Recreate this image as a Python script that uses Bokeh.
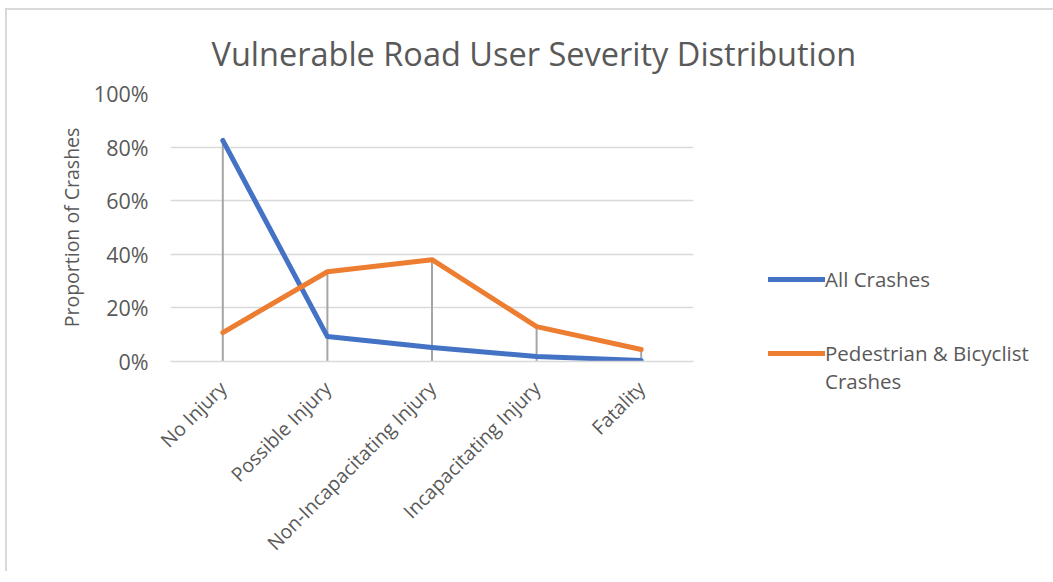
from bokeh.plotting import figure
from bokeh.models import (FactorRange, Range1d, FixedTicker, NumeralTickFormatter,
                          Legend, LegendItem)
from bokeh.embed import file_html
from bokeh.resources import INLINE
import math

categories = ["No Injury", "Possible Injury", "Non-Incapacitating Injury",
              "Incapacitating Injury", "Fatality"]
all_crashes = [0.825, 0.093, 0.052, 0.019, 0.004]
ped_bike = [0.108, 0.335, 0.38, 0.13, 0.045]
y_ticks = [0, 0.2, 0.4, 0.6, 0.8, 1.0]
title_text = "Vulnerable Road User Severity Distribution"
y_label = "Proportion of Crashes"
series_names = ["All Crashes", " \nPedestrian & Bicyclist\nCrashes"]

FONT = "Open Sans"
TXT = "#595959"

p = figure(x_range=FactorRange(*categories, range_padding=0),
           y_range=Range1d(0, 1.0),
           frame_width=523, frame_height=268,
           output_backend="svg", toolbar_location=None,
           min_border_left=163, min_border_right=0, min_border_top=0,
           min_border_bottom=210)
p.margin = (8, 0, 0, 5)
p.outline_line_color = None
p.background_fill_color = "white"
p.border_fill_color = "white"

p.title.text = title_text
p.title.text_font = FONT
p.title.text_font_size = "32.5px"
p.title.text_font_style = "normal"
p.title.text_color = TXT
p.title.align = "left"
p.title.offset = 41
p.title.standoff = 36

# grid
p.xgrid.grid_line_color = None
p.ygrid.grid_line_color = "#d9d9d9"
p.ygrid.grid_line_width = 1.5

# axes
p.yaxis.ticker = FixedTicker(ticks=y_ticks)
p.yaxis.formatter = NumeralTickFormatter(format="0%")
p.yaxis.axis_line_color = None
p.yaxis.major_tick_line_color = None
p.yaxis.minor_tick_line_color = None
p.yaxis.major_label_text_font = FONT
p.yaxis.major_label_text_font_size = "21.5px"
p.yaxis.major_label_text_color = TXT
p.yaxis.major_label_standoff = 16
p.yaxis.axis_label = y_label
p.yaxis.axis_label_text_font = FONT
p.yaxis.axis_label_text_font_size = "19.5px"
p.yaxis.axis_label_text_font_style = "normal"
p.yaxis.axis_label_text_color = TXT
p.yaxis.axis_label_standoff = 6

p.xaxis.axis_line_color = "#d9d9d9"
p.xaxis.axis_line_width = 1.5
p.xaxis.major_tick_line_color = None
p.xaxis.minor_tick_line_color = None
p.xaxis.major_label_orientation = math.pi / 4
p.xaxis.major_label_text_font = FONT
p.xaxis.major_label_text_font_size = "19.5px"
p.xaxis.major_label_text_color = TXT
p.xaxis.major_label_standoff = 17

# drop lines
drop_top = [max(a, b) for a, b in zip(all_crashes, ped_bike)]
p.segment(x0=categories, y0=[0] * len(categories), x1=categories, y1=drop_top,
          line_color="#a5a5a5", line_width=2)

r1 = p.line(categories, all_crashes, line_color="#4472C4", line_width=5,
            line_cap="round", line_join="round")
r2 = p.line(categories, ped_bike, line_color="#ED7D31", line_width=5,
            line_cap="round", line_join="round")

legend = Legend(items=[LegendItem(label=series_names[0], renderers=[r1]),
                       LegendItem(label=series_names[1], renderers=[r2])],
                location=(75, -34), orientation="vertical",
                border_line_color=None, background_fill_alpha=0,
                glyph_width=57, glyph_height=20, label_standoff=0,
                spacing=18, padding=0, margin=0,
                label_text_font=FONT, label_text_font_size="20.5px",
                label_text_color=TXT)
p.add_layout(legend, "right")

p.styles = {"border-left": "2px solid #d9d9d9", "border-top": "2px solid #d9d9d9"}

open("out.html", "w").write(file_html(p, INLINE))
